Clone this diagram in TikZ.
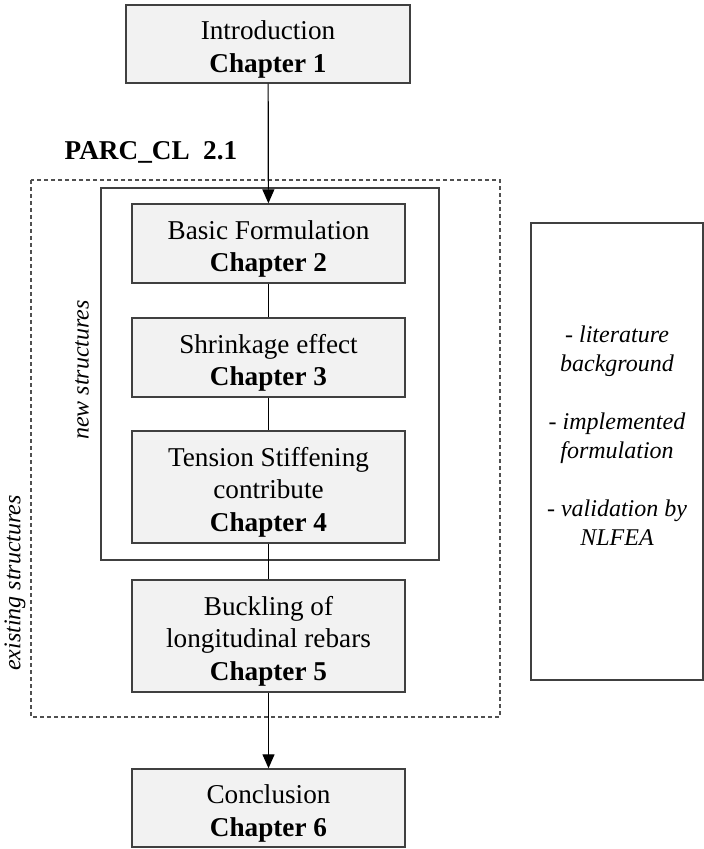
\documentclass[tikz,border=0pt]{standalone}
\usepackage{fontspec}
\setmainfont{Liberation Serif}
\usetikzlibrary{arrows.meta,positioning}
\definecolor{boxbg}   {HTML}{F2F2F2}
\definecolor{boxline} {HTML}{404040}
\definecolor{dashline}{HTML}{505050}
\tikzset{
  chapnode/.style={
    rectangle, draw=boxline, line width=0.7pt, fill=boxbg,
    text=black, font=\fontsize{13.6}{16.3}\selectfont, align=center,
    minimum width=136.5pt, inner sep=2pt
  },
  chaparrow/.style={
    -{Triangle[length=7pt, width=6pt]}, line width=0.6pt, draw=black
  },
  chapline/.style={line width=0.6pt, draw=black},
  grouplabel/.style={font=\itshape\fontsize{12}{14.5}\selectfont, align=center}
}
\newcommand{\topgap}{\rule{0pt}{14.8pt}}

\begin{document}
\begin{tikzpicture}[
          x=0.5pt, y=-0.5pt,
          twoline/.style={chapnode, minimum height=39.5pt},
          threeline/.style={chapnode, minimum height=56pt}
        ]
        \useasboundingbox (0,0) rectangle (704,849);
        % groups
        \draw[dashline, dash pattern=on 2pt off 1.5pt, line width=0.6pt] (31,180) rectangle (500,717);
        \draw[boxline, line width=0.7pt] (101,188) rectangle (439,560);
        \node[grouplabel, rotate=90] (newlbl) at (82,370) {new structures};
        \node[grouplabel, rotate=90] (oldlbl) at (15,583) {existing structures};
        \node[font=\bfseries\fontsize{13.6}{16.3}\selectfont] (parc) at (151,152) {PARC\_CL\ \ 2.1};
        % chapters
        \node[twoline, minimum width=142pt, minimum height=39pt] (intro) at (268,44) {\topgap Introduction\\\textbf{Chapter 1}};
        \node[twoline] (basic) at (268.5,243.5) {\topgap Basic Formulation\\\textbf{Chapter 2}};
        \node[twoline, below=16.8pt of basic] (shrink) {\topgap Shrinkage effect\\\textbf{Chapter 3}};
        \node[threeline, below=16.3pt of shrink] (tension) {\topgap Tension Stiffening\\contribute\\\textbf{Chapter 4}};
        \node[threeline, below=17.8pt of tension] (buckling) {\topgap Buckling of\\longitudinal rebars\\\textbf{Chapter 5}};
        \node[twoline, minimum height=39pt, below=37.8pt of buckling] (concl) {\topgap Conclusion\\\textbf{Chapter 6}};
        \draw[chaparrow] (intro) -- (basic);
        \draw[chapline] (basic) -- (shrink);
        \draw[chapline] (shrink) -- (tension);
        \draw[chapline] (tension) -- (buckling);
        \draw[chaparrow] (buckling) -- (concl);
        % side note
        \node[draw=boxline, line width=0.7pt, minimum width=86pt, minimum height=228.5pt] (side) at (617,451.5) {};
        \node[grouplabel] (sidetxt) at (617,436) {- literature\\background\\[14.5pt]- implemented\\formulation\\[14.5pt]- validation by\\NLFEA};
      \end{tikzpicture}
\end{document}
